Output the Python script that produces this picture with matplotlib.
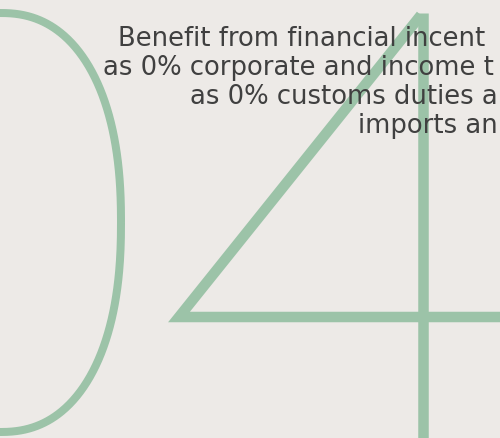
import numpy as np
import matplotlib.pyplot as plt
from matplotlib.lines import Line2D

W, H = 500, 438
BG = "#EDEAE7"
GREEN = "#9CC3A8"
TEXT = "#404040"

# visible text lines and their left start / baseline (pixels)
lines = [
    "Benefit from financial incent",
    "as 0% corporate and income t",
    "as 0% customs duties a",
    "imports an",
]
line_x = [118, 103, 190, 358]
line_base = [46, 75, 104, 133]

# "0" outline: superellipse centre, semi-axes, exponent
zero_c = (0, 222.5)
zero_ab = (121, 209.5)
zero_n = 2.3

# "4" outline vertices
four_x = [500, 179, 421]
four_y = [317, 317, 15]
stem_x = [423, 423]
stem_y = [13, 438]

fig = plt.figure(figsize=(W / 100, H / 100), dpi=100)
fig.patch.set_facecolor(BG)
ax = fig.add_axes([0, 0, 1, 1])
ax.set_facecolor(BG)
ax.set_xlim(0, W)
ax.set_ylim(H, 0)
ax.axis("off")

t = np.linspace(0, 2 * np.pi, 800)
c, s = np.cos(t), np.sin(t)
ex = zero_c[0] + zero_ab[0] * np.sign(c) * np.abs(c) ** (2 / zero_n)
ey = zero_c[1] + zero_ab[1] * np.sign(s) * np.abs(s) ** (2 / zero_n)
lw = 8 * 72 / 100
ax.plot(ex, ey, color=GREEN, lw=lw, solid_capstyle="butt")

lw4 = 10.5 * 72 / 100
ax.add_line(Line2D(four_x, four_y, color=GREEN, lw=lw4,
                   solid_joinstyle="miter", solid_capstyle="butt"))
ax.add_line(Line2D(stem_x, stem_y, color=GREEN, lw=lw4, solid_capstyle="butt"))

for txt, x, yb in zip(lines, line_x, line_base):
    ax.text(x, yb, txt, family="DejaVu Sans", fontsize=18.6, color=TEXT,
            ha="left", va="baseline", clip_on=False)

fig.savefig("out.png", dpi=100, facecolor=BG)
